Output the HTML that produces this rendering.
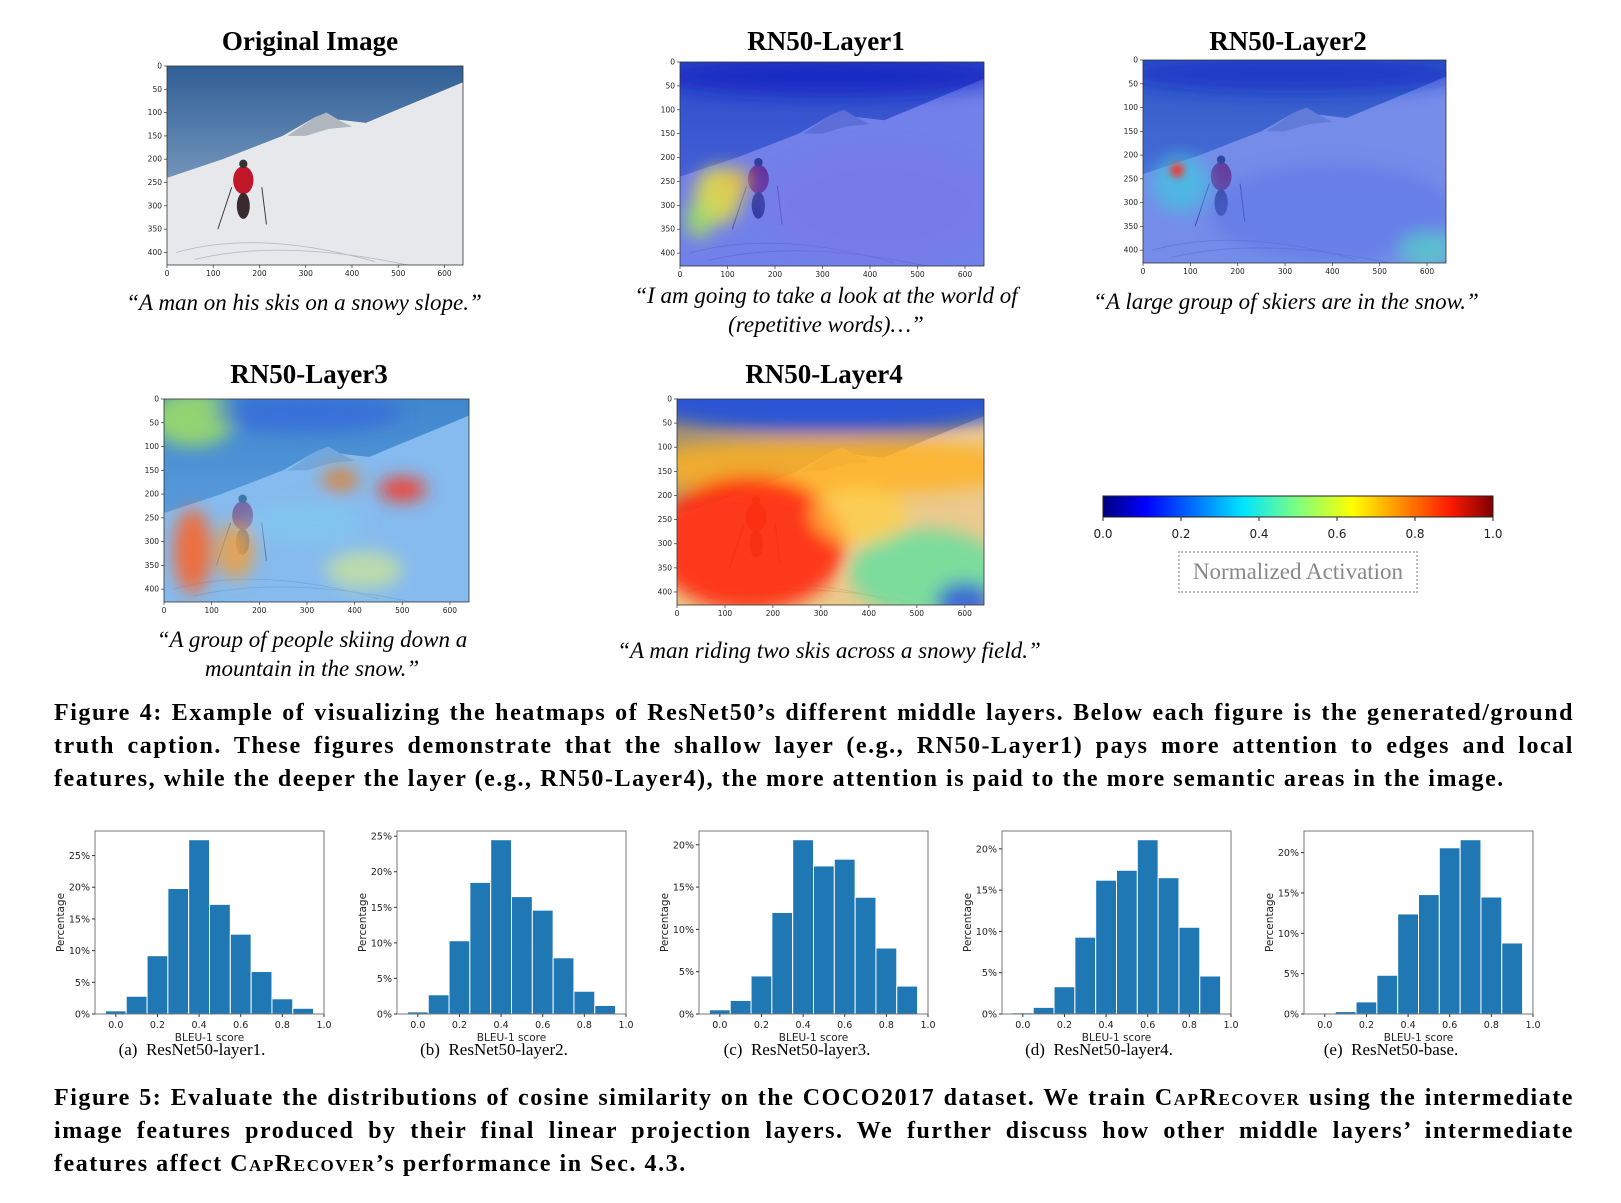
<!DOCTYPE html>
<html><head><meta charset="utf-8">
<style>
body{margin:0;background:#fff;}
#root{position:relative;width:1621px;height:1203px;overflow:hidden;background:#fff;font-family:"Liberation Serif",serif;color:#000;}
.t{position:absolute;white-space:nowrap;}
.ptitle{font-weight:bold;font-size:27px;transform:translateX(-50%);}
.cap{font-style:italic;font-size:23px;transform:translateX(-50%);text-align:center;line-height:29px;}
.fig{position:absolute;left:54px;width:1520px;font-weight:bold;font-size:24px;line-height:33px;letter-spacing:1.55px;}
.fig div{text-align:justify;text-align-last:justify;height:33px;white-space:nowrap;}
.fig div.last{text-align-last:left;}
.sc{font-variant:small-caps;}
.sub{font-size:17px;transform:translateX(-50%);}
svg text{font-family:"DejaVu Sans","Liberation Sans",sans-serif;}
</style></head>
<body>
<div id="root">

<div class="t ptitle" style="left:310px;top:26px">Original Image</div>
<div class="t ptitle" style="left:826px;top:26px">RN50-Layer1</div>
<div class="t ptitle" style="left:1288px;top:26px">RN50-Layer2</div>
<div class="t ptitle" style="left:309px;top:359px">RN50-Layer3</div>
<div class="t ptitle" style="left:824px;top:359px">RN50-Layer4</div>

<div class="t cap" style="left:304px;top:288px">“A man on his skis on a snowy slope.”</div>
<div class="t cap" style="left:826px;top:281px">“I am going to take a look at the world of<br>(repetitive words)…”</div>
<div class="t cap" style="left:1286px;top:287px">“A large group of skiers are in the snow.”</div>
<div class="t cap" style="left:312px;top:625px">“A group of people skiing down a<br>mountain in the snow.”</div>
<div class="t cap" style="left:829px;top:636px">“A man riding two skis across a snowy field.”</div>

<svg id="panels" width="1621" height="1203" style="position:absolute;left:0;top:0">
<defs>
<linearGradient id="sky" x1="0" y1="0" x2="0" y2="1"><stop offset="0" stop-color="#2f5f96"/><stop offset="1" stop-color="#a6bcd6"/></linearGradient>
<linearGradient id="jet" x1="0" y1="0" x2="1" y2="0">
<stop offset="0" stop-color="#00007f"/><stop offset="0.11" stop-color="#0000ff"/><stop offset="0.36" stop-color="#00e5ff"/><stop offset="0.5" stop-color="#7fff7f"/><stop offset="0.64" stop-color="#ffff00"/><stop offset="0.89" stop-color="#ff1a00"/><stop offset="1" stop-color="#7f0000"/></linearGradient>
<filter id="blur" x="-50%" y="-50%" width="200%" height="200%"><feGaussianBlur stdDeviation="18"/></filter>
<filter id="blur2" x="-50%" y="-50%" width="200%" height="200%"><feGaussianBlur stdDeviation="8"/></filter>
<clipPath id="clipimg"><rect x="0" y="0" width="640" height="427"/></clipPath>
</defs>
</svg>

<div>
<svg width="1621" height="1203" style="position:absolute;left:0;top:0" id="cbsvg">
<rect x="1103" y="496" width="390" height="21" fill="url(#jet)" stroke="#222" stroke-width="1"/>
</svg>
</div>
<div class="t" style="left:1178px;top:551px;width:236px;height:38px;border:2px dotted #bbb;font-size:23px;color:#888;text-align:center;line-height:38px">Normalized Activation</div>

<div class="fig" style="top:697px">
<div>Figure 4: Example of visualizing the heatmaps of ResNet50’s different middle layers. Below each figure is the generated/ground</div>
<div>truth caption. These figures demonstrate that the shallow layer (e.g., RN50-Layer1) pays more attention to edges and local</div>
<div class="last">features, while the deeper the layer (e.g., RN50-Layer4), the more attention is paid to the more semantic areas in the image.</div>
</div>

<svg id="hists" width="1621" height="1203" style="position:absolute;left:0;top:0"></svg>

<div class="t sub" style="left:192px;top:1040px">(a)&nbsp; ResNet50-layer1.</div>
<div class="t sub" style="left:494px;top:1040px">(b)&nbsp; ResNet50-layer2.</div>
<div class="t sub" style="left:797px;top:1040px">(c)&nbsp; ResNet50-layer3.</div>
<div class="t sub" style="left:1099px;top:1040px">(d)&nbsp; ResNet50-layer4.</div>
<div class="t sub" style="left:1391px;top:1040px">(e)&nbsp; ResNet50-base.</div>

<div class="fig" style="top:1082px">
<div>Figure 5: Evaluate the distributions of cosine similarity on the COCO2017 dataset. We train <span class="sc">CapRecover</span> using the intermediate</div>
<div>image features produced by their final linear projection layers. We further discuss how other middle layers’ intermediate</div>
<div class="last">features affect <span class="sc">CapRecover</span>’s performance in Sec. 4.3.</div>
</div>
</div>

<script>
// ---- Histogram data (percent per BLEU-1 bin, bins centered at 0.0..0.9) ----
const binCenters = [0.0,0.1,0.2,0.3,0.4,0.5,0.6,0.7,0.8,0.9];
const histA = [0.5,2.8,9.2,19.8,27.5,17.3,12.6,6.7,2.4,0.9];
const histB = [0.3,2.7,10.3,18.5,24.5,16.5,14.6,7.9,3.2,1.2];
const histC = [0.5,1.6,4.5,12.0,20.6,17.5,18.3,13.8,7.8,3.3];
const histD = [0.15,0.8,3.3,9.3,16.2,17.4,21.1,16.5,10.5,4.6];
const histE = [0.0,0.3,1.5,4.8,12.4,14.8,20.6,21.6,14.5,8.8];
const xTickLabels = ["0.0","0.2","0.4","0.6","0.8","1.0"];
const yTicksAB = [0,5,10,15,20,25];
const yTicksCDE = [0,5,10,15,20];
const imgXTicks = [0,100,200,300,400,500,600];
const imgYTicks = [0,50,100,150,200,250,300,350,400];
const cbTicks = ["0.0","0.2","0.4","0.6","0.8","1.0"];

const NS="http://www.w3.org/2000/svg";
function mk(parent,tag,attrs){const e=document.createElementNS(NS,tag);for(const k in attrs)e.setAttribute(k,attrs[k]);parent.appendChild(e);return e;}

// ---- Histograms ----
const hs=document.getElementById('hists');
const hdefs=[
 {d:histA,t:yTicksAB,x:95,k:'a'},{d:histB,t:yTicksAB,x:397,k:'b'},{d:histC,t:yTicksCDE,x:699,k:'c'},
 {d:histD,t:yTicksCDE,x:1002,k:'d'},{d:histE,t:yTicksCDE,x:1304,k:'e'}];
hdefs.forEach(h=>{
  const L=h.x,R=h.x+229,T=831,B=1014;
  const g=mk(hs,'g',{});
  
  
  const ymax=Math.max(...h.d)*1.05;
  const xs=v=>L+(v+0.1)/1.1*(R-L);
  const ys=v=>B-v/ymax*(B-T);
  h.d.forEach((v,i)=>{
    const r=mk(g,'rect',{x:xs(binCenters[i]-0.05),y:ys(v),width:xs(binCenters[i]+0.05)-xs(binCenters[i]-0.05),height:B-ys(v),fill:'#1f77b4',stroke:'#fff','stroke-width':1});
    
    
  });
  mk(g,'rect',{x:L,y:T,width:R-L,height:B-T,fill:'none',stroke:'#777','stroke-width':1});
  xTickLabels.forEach(s=>{const v=parseFloat(s);const x=xs(v);
    mk(g,'line',{x1:x,x2:x,y1:B,y2:B+3,stroke:'#333'});
    const t=mk(g,'text',{x:x,y:B+14,'font-size':9.5,'text-anchor':'middle',fill:'#222'});t.textContent=s;});
  h.t.forEach(v=>{const y=ys(v);
    mk(g,'line',{x1:L-3,x2:L,y1:y,y2:y,stroke:'#333'});
    const t=mk(g,'text',{x:L-5,y:y+3.5,'font-size':9.5,'text-anchor':'end',fill:'#222'});t.textContent=v+'%';});
  const xl=mk(g,'text',{x:(L+R)/2,y:B+27,'font-size':10.5,'text-anchor':'middle',fill:'#222'});xl.textContent='BLEU-1 score';
  const yl=mk(g,'text',{x:0,y:0,'font-size':10.5,'text-anchor':'middle',fill:'#222',transform:`translate(${L-31},${(T+B)/2}) rotate(-90)`});yl.textContent='Percentage';
});

// ---- Colorbar ticks ----
const cb=document.getElementById('cbsvg');
cbTicks.forEach((s,i)=>{const x=1103+i/5*390;
  mk(cb,'line',{x1:x,x2:x,y1:517,y2:521,stroke:'#222'});
  const t=mk(cb,'text',{x:x,y:538,'font-size':12,'text-anchor':'middle',fill:'#222'});t.textContent=s;});

// ---- Image panels ----
const ps=document.getElementById('panels');
function scene(g){
  mk(g,'rect',{x:0,y:0,width:640,height:427,fill:'url(#sky)'});
  mk(g,'polygon',{points:'0,240 120,200 250,150 320,110 345,100 370,115 430,122 640,35 640,427 0,427',fill:'#e6e8ec'});
  mk(g,'polygon',{points:'260,150 320,110 345,100 370,115 400,130 350,135 300,150',fill:'#9aa3ad',opacity:0.7});
  mk(g,'path',{d:'M20,400 Q200,350 450,420 M60,415 Q250,370 520,427',stroke:'#b8bcc4','stroke-width':2,fill:'none'});
  mk(g,'ellipse',{cx:165,cy:245,rx:22,ry:30,fill:'#c0182a'});
  mk(g,'ellipse',{cx:165,cy:300,rx:14,ry:28,fill:'#3a2a2e'});
  mk(g,'circle',{cx:165,cy:210,r:9,fill:'#333'});
  mk(g,'line',{x1:110,y1:350,x2:140,y2:260,stroke:'#333','stroke-width':2});
  mk(g,'line',{x1:215,y1:340,x2:205,y2:260,stroke:'#333','stroke-width':2});
}
function blobs(g,list){const bg=mk(g,'g',{filter:'url(#blur)'});list.forEach(b=>mk(bg,'ellipse',{cx:b[0],cy:b[1],rx:b[2],ry:b[3],fill:b[4],opacity:b[5]===undefined?0.85:b[5]}));}
function panel(name,L,T,R,B,overlay){
  const g=mk(ps,'g',{});
  
  
  const sx=(R-L)/640, sy=(B-T)/427;
  const inner=mk(g,'g',{transform:`translate(${L},${T}) scale(${sx},${sy})`,'clip-path':'url(#clipimg)'});
  scene(inner);
  if(overlay) overlay(inner);
  mk(g,'rect',{x:L,y:T,width:R-L,height:B-T,fill:'none',stroke:'#333','stroke-width':0.8});
  imgXTicks.forEach(v=>{const x=L+v*sx;mk(g,'line',{x1:x,x2:x,y1:B,y2:B+3,stroke:'#333','stroke-width':0.7});
    const t=mk(g,'text',{x:x,y:B+11,'font-size':7.5,'text-anchor':'middle',fill:'#222'});t.textContent=v;});
  imgYTicks.forEach(v=>{const y=T+v*sy;mk(g,'line',{x1:L-3,x2:L,y1:y,y2:y,stroke:'#333','stroke-width':0.7});
    const t=mk(g,'text',{x:L-5,y:y+2.5,'font-size':7.5,'text-anchor':'end',fill:'#222'});t.textContent=v;});
}
panel('image-original',167,66,463,265,null);
panel('heatmap-layer1',680,62,984,266,g=>{
  mk(g,'rect',{x:0,y:0,width:640,height:427,fill:'#2a40e8',opacity:0.62});
  blobs(g,[[320,30,360,40,'#1020c0',0.7],[420,300,240,120,'#7a78e8',0.6],[80,280,50,60,'#e8e040'],[40,330,30,40,'#a0e060'],[120,250,30,30,'#f0c040',0.7]]);
});
panel('heatmap-layer2',1143,60,1446,263,g=>{
  mk(g,'rect',{x:0,y:0,width:640,height:427,fill:'#2f55e6',opacity:0.62});
  blobs(g,[[320,30,360,40,'#1028c8',0.6],[80,260,60,60,'#40c8e0',0.7],[400,320,260,100,'#5a70e8',0.5],[600,400,60,40,'#50e0c0',0.6]]);
  mk(g,'circle',{cx:72,cy:232,r:14,fill:'#ff3020',filter:'url(#blur2)'});
});
panel('heatmap-layer3',164,399,469,602,g=>{
  mk(g,'rect',{x:0,y:0,width:640,height:427,fill:'#4aa0f0',opacity:0.62});
  blobs(g,[[60,40,90,60,'#a0e060'],[300,30,200,40,'#3060e0',0.6],[500,190,50,25,'#ff3010'],[370,170,40,25,'#e08030'],[60,320,40,90,'#ff6020'],[150,320,40,60,'#f0a040'],[420,360,80,40,'#e0f080',0.6],[300,260,120,40,'#80d0f0',0.5]]);
});
panel('heatmap-layer4',677,399,984,605,g=>{
  mk(g,'rect',{x:0,y:0,width:640,height:427,fill:'#f0b040',opacity:0.55});
  blobs(g,[[320,0,420,70,'#2050e0',0.9],[320,140,420,60,'#ffb020',0.8],[150,300,200,140,'#ff2a10',0.9],[520,360,160,90,'#60e0a0',0.8],[600,420,60,40,'#3050e0',0.8],[380,240,100,60,'#ffd040',0.7]]);
});
</script>
</body></html>
